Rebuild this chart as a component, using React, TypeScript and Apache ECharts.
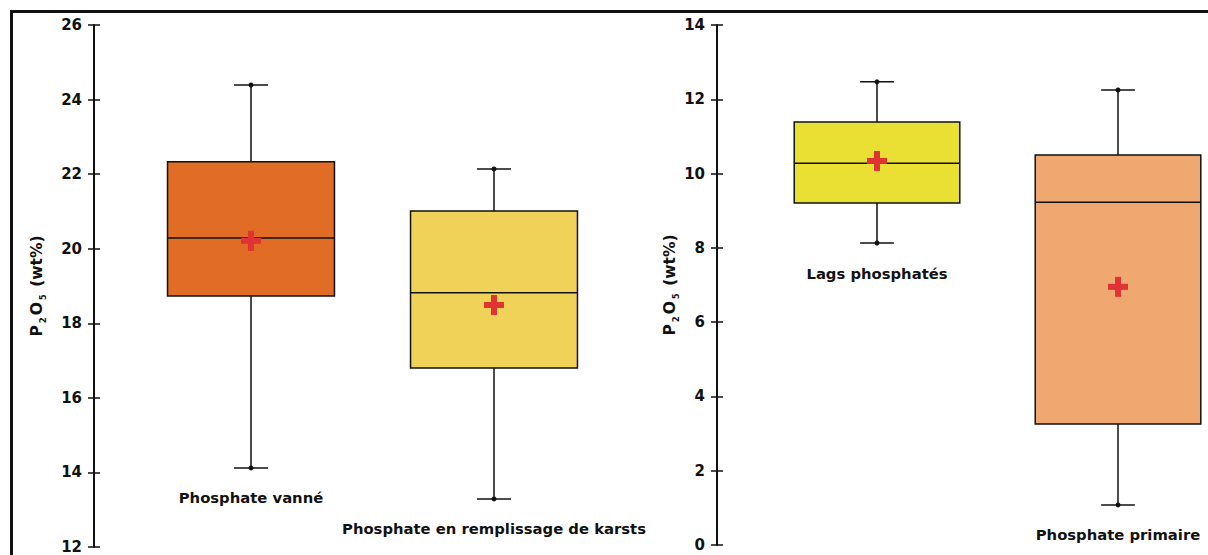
import React, { useEffect, useRef } from "react";
import * as echarts from "echarts";

// Left panel
const leftCategories = ["Phosphate vanné", "Phosphate en remplissage de karsts"];
// [min, Q1, median, Q3, max]
const leftBoxes = [
  [14.12, 18.73, 20.29, 22.33, 24.39],
  [13.29, 16.8, 18.82, 21.01, 22.14],
];
const leftMeans = [20.21, 18.49];
const leftColors = ["#E06C25", "#F0D258"];

// Right panel
const rightCategories = ["Lags phosphatés", "Phosphate primaire"];
const rightBoxes = [
  [8.13, 9.21, 10.28, 11.39, 12.47],
  [1.08, 3.26, 9.23, 10.5, 12.25],
];
const rightMeans = [10.34, 6.95];
const rightColors = ["#EAE033", "#EEA870"];

const leftAxis = { min: 12, max: 26, interval: 2 };
const rightAxis = { min: 0, max: 14, interval: 2 };

const FONT = "'DejaVu Sans', sans-serif";
const INK = "#111111";
const MEAN_COLOR = "#E03333";

function buildData(boxes: number[][], means: number[]) {
  return boxes.map((b, i) => [i, ...b, means[i]]);
}

function makeRender(categories: string[], colors: string[]) {
  return (params: any, api: any) => {
    const i = params.dataIndex;
    const idx = api.value(0);
    const mn = api.value(1);
    const q1 = api.value(2);
    const md = api.value(3);
    const q3 = api.value(4);
    const mx = api.value(5);
    const mean = api.value(6);
    const band = api.size([1, 0])[0];
    const bw = band * 0.687;
    const cw = band * 0.14;
    const pMin = api.coord([idx, mn]);
    const pQ1 = api.coord([idx, q1]);
    const pMd = api.coord([idx, md]);
    const pQ3 = api.coord([idx, q3]);
    const pMx = api.coord([idx, mx]);
    const pMean = api.coord([idx, mean]);
    const x = pMin[0];
    const stroke = { stroke: INK, lineWidth: 1.5, fill: null };
    return {
      type: "group",
      children: [
        { type: "line", shape: { x1: x, y1: pMx[1], x2: x, y2: pQ3[1] }, style: stroke },
        { type: "line", shape: { x1: x, y1: pQ1[1], x2: x, y2: pMin[1] }, style: stroke },
        { type: "line", shape: { x1: x - cw / 2, y1: pMx[1], x2: x + cw / 2, y2: pMx[1] }, style: stroke },
        { type: "line", shape: { x1: x - cw / 2, y1: pMin[1], x2: x + cw / 2, y2: pMin[1] }, style: stroke },
        { type: "circle", shape: { cx: x, cy: pMx[1], r: 2.5 }, style: { fill: INK } },
        { type: "circle", shape: { cx: x, cy: pMin[1], r: 2.5 }, style: { fill: INK } },
        {
          type: "rect",
          shape: { x: x - bw / 2, y: pQ3[1], width: bw, height: pQ1[1] - pQ3[1] },
          style: { fill: colors[i], stroke: INK, lineWidth: 1.5 },
        },
        { type: "line", shape: { x1: x - bw / 2, y1: pMd[1], x2: x + bw / 2, y2: pMd[1] }, style: stroke },
        { type: "rect", shape: { x: x - 10, y: pMean[1] - 3, width: 20, height: 6 }, style: { fill: MEAN_COLOR } },
        { type: "rect", shape: { x: x - 3, y: pMean[1] - 10, width: 6, height: 20 }, style: { fill: MEAN_COLOR } },
        {
          type: "text",
          x: x,
          y: pMin[1] + 30,
          style: {
            text: categories[i],
            align: "center",
            verticalAlign: "middle",
            fontSize: 14.8,
            fontWeight: "bold",
            fontFamily: FONT,
            fill: INK,
          },
        },
      ],
    };
  };
}

const nameRich = {
  a: { fontSize: 15.5, fontWeight: 600, fontFamily: FONT, color: INK, lineHeight: 20 },
  s: { fontSize: 8.5, fontWeight: 600, fontFamily: FONT, color: INK, lineHeight: 8, verticalAlign: "bottom", padding: [0, 2, 0, 2] },
};

function yAxes(gridIndex: number, range: any, offset: number, nameGap: number) {
  const base = {
    type: "value",
    gridIndex,
    position: "left",
    min: range.min,
    max: range.max,
    interval: range.interval,
    offset,
    splitLine: { show: false },
  };
  return [
    {
      ...base,
      name: "{a|P}{s|2}{a|O}{s|5}{a| (wt%)}",
      nameLocation: "middle",
      nameRotate: 90,
      nameGap,
      nameTextStyle: { rich: nameRich },
      axisLine: { show: true, onZero: false, lineStyle: { color: INK, width: 2 } },
      axisTick: { show: true, length: 6, lineStyle: { color: INK, width: 1.5 } },
      axisLabel: { show: true, margin: 12, color: INK, fontSize: 15, fontWeight: "bold", fontFamily: FONT },
    },
    {
      ...base,
      axisLine: { show: false, onZero: false },
      axisTick: { show: true, inside: true, length: 6, lineStyle: { color: INK, width: 1.5 } },
      axisLabel: { show: false },
    },
  ];
}

export default function App() {
  const ref = useRef<HTMLDivElement>(null);
  useEffect(() => {
    if (!ref.current) return;
    const chart = echarts.init(ref.current, null, { renderer: "svg" });
    chart.setOption({
      animation: false,
      backgroundColor: "#ffffff",
      grid: [
        { left: 129.5, top: 25, width: 486, height: 522 },
        { left: 756.5, top: 25, right: 0, height: 520 },
      ],
      xAxis: [
        { type: "value", gridIndex: 0, min: -0.5, max: 1.5, show: false },
        { type: "value", gridIndex: 1, min: -0.5, max: 1.3734, show: false },
      ],
      yAxis: [...yAxes(0, leftAxis, 35.5, 47), ...yAxes(1, rightAxis, 39.5, 33)],
      graphic: [
        { type: "line", shape: { x1: 10, y1: 11.5, x2: 1208, y2: 11.5 }, style: { stroke: INK, lineWidth: 3 } },
        { type: "line", shape: { x1: 11.5, y1: 10, x2: 11.5, y2: 555 }, style: { stroke: INK, lineWidth: 3 } },
      ],
      series: [
        {
          type: "custom",
          xAxisIndex: 0,
          yAxisIndex: 0,
          clip: false,
          data: buildData(leftBoxes, leftMeans),
          encode: { x: 0, y: [1, 2, 3, 4, 5, 6] },
          renderItem: makeRender(leftCategories, leftColors),
        },
        {
          type: "custom",
          xAxisIndex: 1,
          yAxisIndex: 2,
          clip: false,
          data: buildData(rightBoxes, rightMeans),
          encode: { x: 0, y: [1, 2, 3, 4, 5, 6] },
          renderItem: makeRender(rightCategories, rightColors),
        },
      ],
    });
    return () => chart.dispose();
  }, []);
  return (
    <div
      ref={ref}
      style={{ position: "absolute", left: 0, top: 0, width: 1208, height: 555 }}
    />
  );
}
